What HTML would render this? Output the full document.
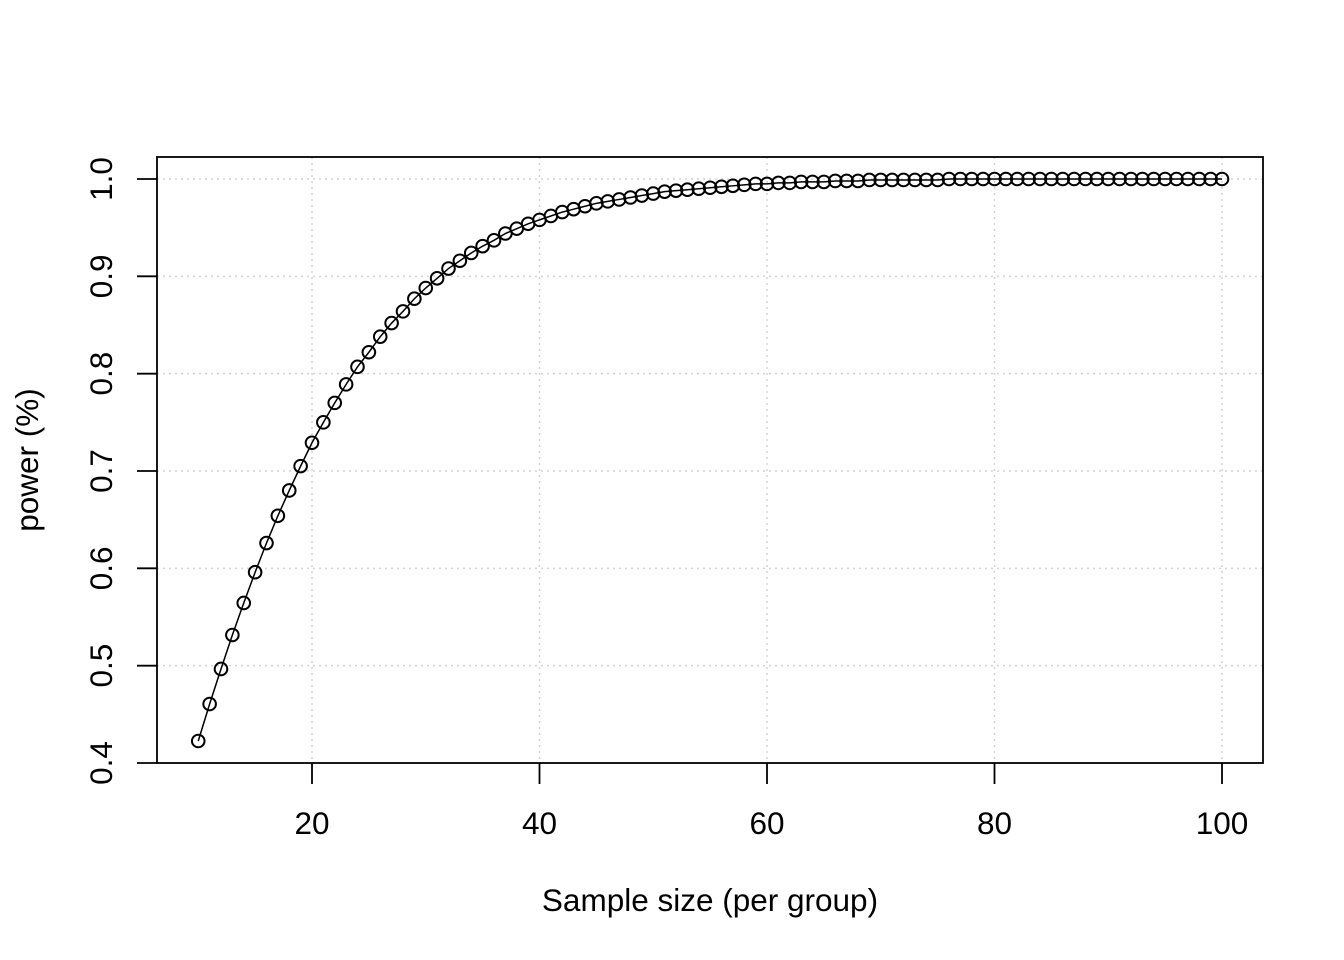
<!DOCTYPE html>
<html><head><meta charset="utf-8"><style>
html,body{margin:0;padding:0;background:#fff;}
svg{display:block;font-family:"Liberation Sans",Arial,sans-serif;}
</style></head><body>
<svg id="chart" width="1344" height="960" viewBox="0 0 1344 960" xmlns="http://www.w3.org/2000/svg"></svg>
<script>
const sampleSizes = [];
for (let n = 10; n <= 100; n++) sampleSizes.push(n);
const powerValues = [0.4226,0.4606,0.4966,0.5315,0.5644,0.596,0.626,0.654,0.680,0.705,
0.729,0.750,0.770,0.789,0.807,0.822,0.838,0.852,0.864,0.877,
0.888,0.898,0.908,0.916,0.924,0.931,0.937,0.944,0.949,0.954,
0.958,0.962,0.966,0.969,0.972,0.975,0.977,0.979,0.981,0.983,
0.985,0.987,0.988,0.989,0.990,0.991,0.992,0.993,0.994,0.995,
0.995,0.996,0.996,0.997,0.997,0.997,0.998,0.998,0.998,0.999,
0.999,0.999,0.999,0.999,0.999,0.999,1.0,1.0,1.0,1.0,
1.0,1.0,1.0,1.0,1.0,1.0,1.0,1.0,1.0,1.0,
1.0,1.0,1.0,1.0,1.0,1.0,1.0,1.0,1.0,1.0,1.0];
const xTicks = [20,40,60,80,100];
const yTicks = [0.4,0.5,0.6,0.7,0.8,0.9,1.0];
const yTickLabels = ["0.4","0.5","0.6","0.7","0.8","0.9","1.0"];

const NS = "http://www.w3.org/2000/svg";
const svg = document.getElementById('chart');
const X = v => 312 + (v - 20) * (1222 - 312) / 80;
const Y = v => 763 - (v - 0.4) * (763 - 179) / 0.6;
function mk(tag, attrs, parent) {
  const e = document.createElementNS(NS, tag);
  for (const k in attrs) e.setAttribute(k, attrs[k]);
  (parent || svg).appendChild(e);
  return e;
}
xTicks.forEach(t => {
  const g = mk('line', {x1:X(t), x2:X(t), y1:157, y2:763, stroke:'#d3d3d3', 'stroke-width':1.5, 'stroke-dasharray':'2 4'});
  
  
});
yTicks.forEach(t => {
  const g = mk('line', {x1:157, x2:1263, y1:Y(t), y2:Y(t), stroke:'#d3d3d3', 'stroke-width':1.5, 'stroke-dasharray':'2 4'});
  
  
});
const box = mk('rect', {x:157, y:157, width:1106, height:606, fill:'none', stroke:'#000', 'stroke-width':1.8});


xTicks.forEach(t => {
  const l = mk('line', {x1:X(t), x2:X(t), y1:763, y2:784, stroke:'#000', 'stroke-width':1.8});
  
  
  const tx = mk('text', {x:X(t), y:834, 'text-anchor':'middle', 'font-size':31.5});
  tx.textContent = String(t);
  
  
});
yTicks.forEach((t, i) => {
  const l = mk('line', {x1:137, x2:157, y1:Y(t), y2:Y(t), stroke:'#000', 'stroke-width':1.8});
  
  
  const tx = mk('text', {x:0, y:0, 'text-anchor':'middle', 'font-size':31.5, transform:`translate(112,${Y(t)}) rotate(-90)`});
  tx.textContent = yTickLabels[i];
  
  
});
const xt = mk('text', {x:710, y:911, 'text-anchor':'middle', 'font-size':31.5});
xt.textContent = 'Sample size (per group)';


const yt = mk('text', {x:0, y:0, 'text-anchor':'middle', 'font-size':31.5, transform:'translate(38,460) rotate(-90)'});
yt.textContent = 'power (%)';


const pts = sampleSizes.map((n, i) => X(n).toFixed(2) + ',' + Y(powerValues[i]).toFixed(2)).join(' ');
const pl = mk('polyline', {points:pts, fill:'none', stroke:'#000', 'stroke-width':1.5});


sampleSizes.forEach((n, i) => {
  const c = mk('circle', {cx:X(n), cy:Y(powerValues[i]), r:6.3, fill:'none', stroke:'#000', 'stroke-width':2});
  
  
});
</script>
</body></html>
